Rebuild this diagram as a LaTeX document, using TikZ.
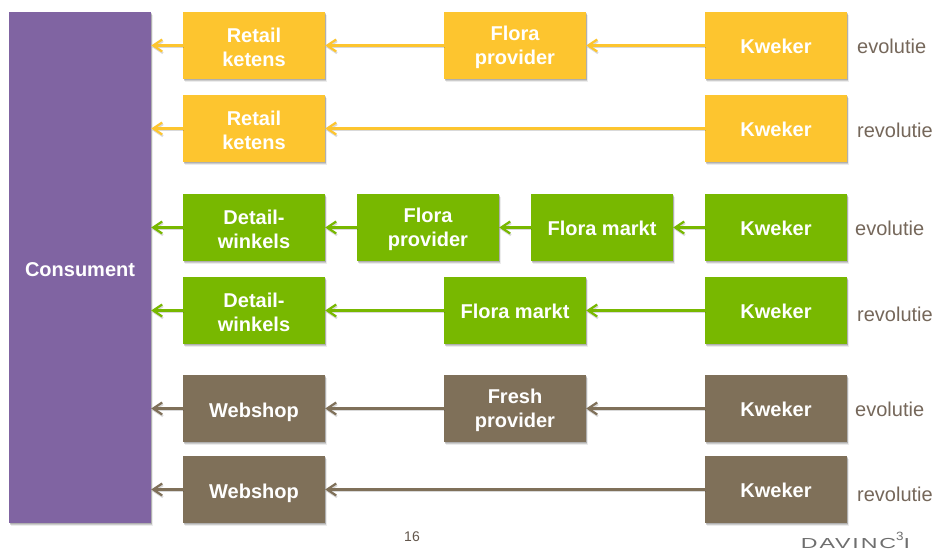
\documentclass[tikz,border=0pt]{standalone}
\usepackage{fontspec}
\usepackage{graphicx}
\setmainfont{Liberation Sans}
\usetikzlibrary{arrows.meta,shadows}
\definecolor{cpurple}{HTML}{8064A2}
\definecolor{cyellow}{HTML}{FDC52F}
\definecolor{cgreen}{HTML}{78B800}
\definecolor{cbrown}{HTML}{7F7059}
\definecolor{clabel}{HTML}{75675A}
\definecolor{clogo}{HTML}{6E6E6E}
\newcommand{\leadtwo}{\rule{0pt}{18.6pt}}
\newcommand{\leadone}{\rule{0pt}{17pt}}
\newcommand{\leadcons}{\rule{0pt}{18pt}}
\newcommand{\leadweb}{\rule{0pt}{21.5pt}}
\tikzset{
  softshadow/.style={
    general shadow={shadow xshift=.6pt,shadow yshift=-1pt,opacity=.22,fill=black!70},
    general shadow={shadow xshift=1.2pt,shadow yshift=-2pt,opacity=.2,fill=black!70},
    general shadow={shadow xshift=1.8pt,shadow yshift=-3pt,opacity=.1,fill=black!70}},
  stagebox/.style={rectangle,inner sep=0pt,minimum width=142pt,minimum height=67pt,align=center,
    text=white,font=\fontsize{20pt}{24pt}\selectfont\bfseries,softshadow},
  ybox/.style={stagebox,fill=cyellow},
  gbox/.style={stagebox,fill=cgreen},
  bbox/.style={stagebox,fill=cbrown},
  flow/.style={line width=2.8pt,-{Straight Barb[length=9pt,width=12pt,line width=2.2pt]},
    preaction={draw=black,opacity=.15,transform canvas={xshift=.8pt,yshift=-1.6pt}}},
  yflow/.style={flow,draw=cyellow},
  gflow/.style={flow,draw=cgreen},
  bflow/.style={flow,draw=cbrown},
  pathlabel/.style={anchor=west,inner sep=0pt,text=clabel,font=\fontsize{20pt}{23pt}\selectfont},
}
\begin{document}
\begin{tikzpicture}[x=1pt,y=-1pt]
\useasboundingbox[fill=white] (0,0) rectangle (935,551);
\node[stagebox,minimum width=142pt,minimum height=511pt,fill=cpurple] (cons) at (80,267.5) {\leadcons Consument};
% row 1
\node[ybox] (a1) at (254,45.5) {\leadtwo Retail\\ketens};
\node[ybox] (a2) at (515,45.5) {\leadtwo Flora\\provider};
\node[ybox] (a3) at (776,45.5) {\leadone Kweker};
\node[pathlabel] (la) at (857,46.4) {evolutie};
% row 2
\node[ybox] (b1) at (254,128.5) {\leadtwo Retail\\ketens};
\node[ybox] (b2) at (776,128.5) {\leadone Kweker};
\node[pathlabel] (lb) at (857,130.4) {revolutie};
% row 3
\node[gbox] (c1) at (254,227.5) {\leadtwo Detail-\\winkels};
\node[gbox] (c2) at (428,227.5) {\leadtwo Flora\\provider};
\node[gbox] (c3) at (602,227.5) {\leadone Flora markt};
\node[gbox] (c4) at (776,227.5) {\leadone Kweker};
\node[pathlabel] (lc) at (855,228.4) {evolutie};
% row 4
\node[gbox] (d1) at (254,310.5) {\leadtwo Detail-\\winkels};
\node[gbox] (d2) at (515,310.5) {\leadone Flora markt};
\node[gbox] (d3) at (776,310.5) {\leadone Kweker};
\node[pathlabel] (ld) at (857,314.4) {revolutie};
% row 5
\node[bbox] (e1) at (254,408.5) {\leadweb Webshop};
\node[bbox] (e2) at (515,408.5) {\leadtwo Fresh\\provider};
\node[bbox] (e3) at (776,408.5) {\leadone Kweker};
\node[pathlabel] (le) at (855,409.4) {evolutie};
% row 6
\node[bbox] (f1) at (254,489.5) {\leadweb Webshop};
\node[bbox] (f2) at (776,489.5) {\leadone Kweker};
\node[pathlabel] (lf) at (857,494.4) {revolutie};
% connectors
\draw[yflow] (a1.west) -- (a1.west -| cons.east);
\draw[yflow] (a2.west) -- (a1.east);
\draw[yflow] (a3.west) -- (a2.east);
\draw[yflow] (b1.west) -- (b1.west -| cons.east);
\draw[yflow] (b2.west) -- (b1.east);
\draw[gflow] (c1.west) -- (c1.west -| cons.east);
\draw[gflow] (c2.west) -- (c1.east);
\draw[gflow] (c3.west) -- (c2.east);
\draw[gflow] (c4.west) -- (c3.east);
\draw[gflow] (d1.west) -- (d1.west -| cons.east);
\draw[gflow] (d2.west) -- (d1.east);
\draw[gflow] (d3.west) -- (d2.east);
\draw[bflow] (e1.west) -- (e1.west -| cons.east);
\draw[bflow] (e2.west) -- (e1.east);
\draw[bflow] (e3.west) -- (e2.east);
\draw[bflow] (f1.west) -- (f1.west -| cons.east);
\draw[bflow] (f2.west) -- (f1.east);
% footer
\node[inner sep=0pt,text=clabel!85!black,font=\fontsize{14pt}{16pt}\selectfont] (pg) at (412,537) {16};
\node[inner sep=0pt,text=clogo,font=\fontsize{14.5pt}{16pt}\selectfont] (logo) at (855.5,540.2)
  {\scalebox{1.6}[1]{\addfontfeature{LetterSpace=8}DAVINC\raisebox{7.5pt}{\scalebox{.7}[1]{\fontsize{12pt}{12pt}\selectfont 3}}I}};
\end{tikzpicture}
\end{document}
